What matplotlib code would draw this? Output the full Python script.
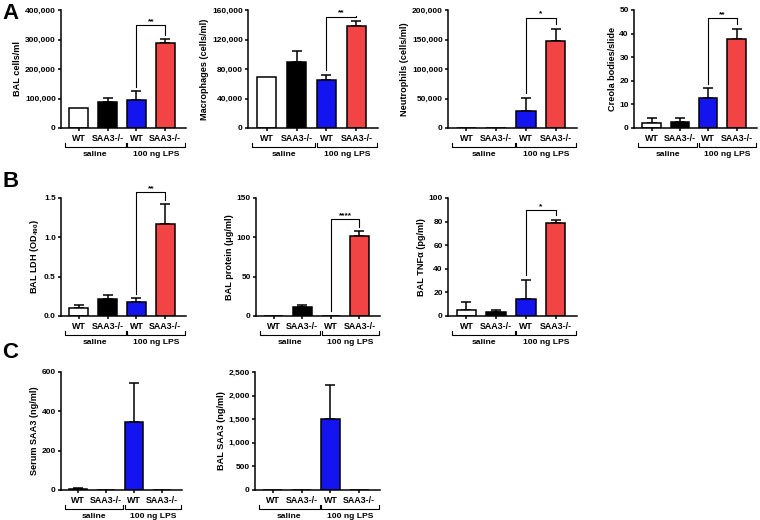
import matplotlib
matplotlib.use('Agg')
import matplotlib.pyplot as plt
from matplotlib.ticker import FuncFormatter
from matplotlib.transforms import blended_transform_factory
from matplotlib.lines import Line2D

plt.rcParams['font.family'] = ['Liberation Sans', 'DejaVu Sans']
plt.rcParams['font.weight'] = 'bold'
plt.rcParams['mathtext.fontset'] = 'custom'
plt.rcParams['mathtext.rm'] = 'Liberation Sans:bold'
plt.rcParams['mathtext.it'] = 'Liberation Sans:bold'
plt.rcParams['mathtext.bf'] = 'Liberation Sans:bold'
plt.rcParams['mathtext.default'] = 'rm'

# ---------------- data ----------------
genotypes = ['WT', 'SAA3-/-', 'WT', 'SAA3-/-']
treatments = ['saline', '100 ng LPS']
bar_colors = ['white', 'black', '#1414F0', '#F24444']

bal_cells = [68000, 88000, 94000, 287000]
bal_cells_err = [0, 15000, 30000, 13500]
macrophages = [69000, 90000, 65000, 138500]
macrophages_err = [0, 15000, 7000, 7000]
neutrophils = [0, 0, 29000, 148000]
neutrophils_err = [0, 0, 22000, 20000]
creola = [2.2, 2.7, 12.8, 37.9]
creola_err = [1.9, 1.4, 4.0, 4.1]
ldh = [0.107, 0.213, 0.18, 1.17]
ldh_err = [0.03, 0.052, 0.043, 0.25]
protein = [0, 11.5, 0, 102]
protein_err = [0, 2.2, 0, 5.5]
tnf = [5.4, 3.4, 14.8, 78.7]
tnf_err = [6.5, 2.0, 15.6, 2.8]
serum_saa3 = [3.4, 0, 345, 0]
serum_saa3_err = [5, 0, 199, 0]
bal_saa3 = [0, 0, 1508, 0]
bal_saa3_err = [0, 0, 710, 0]

# ---------------- layout (pixel boxes: left, top, right, bottom) ----------------
W, H = 760, 520
panels = [
    dict(box=(61, 10, 186, 128), vals=bal_cells, errs=bal_cells_err, ymax=400000, step=100000,
         fmt='comma', ylabel='BAL cells/ml', sig='**', sig_y=349000),
    dict(box=(248, 10, 378, 128), vals=macrophages, errs=macrophages_err, ymax=160000, step=40000,
         fmt='comma', ylabel='Macrophages (cells/ml)', sig='**', sig_y=151000),
    dict(box=(448, 10, 577, 128), vals=neutrophils, errs=neutrophils_err, ymax=200000, step=50000,
         fmt='comma', ylabel='Neutrophils (cells/ml)', sig='*', sig_y=187000),
    dict(box=(634, 10, 757, 128), vals=creola, errs=creola_err, ymax=50, step=10,
         fmt='int', ylabel='Creola bodies/slide', sig='**', sig_y=46.7),
    dict(box=(61, 198, 186, 316), vals=ldh, errs=ldh_err, ymax=1.5, step=0.5,
         fmt='dec', ylabel='BAL LDH (OD$_{490}$)', sig='**', sig_y=1.57),
    dict(box=(256, 198, 380, 316), vals=protein, errs=protein_err, ymax=150, step=50,
         fmt='int', ylabel='BAL protein (\u03bcg/ml)', sig='****', sig_y=123),
    dict(box=(448, 198, 577, 316), vals=tnf, errs=tnf_err, ymax=100, step=20,
         fmt='int', ylabel='BAL TNF\u03b1 (pg/ml)', sig='*', sig_y=90),
    dict(box=(61, 372, 182, 490), vals=serum_saa3, errs=serum_saa3_err, ymax=600, step=200,
         fmt='int', ylabel='Serum SAA3 (ng/ml)', sig=None, sig_y=None),
    dict(box=(255, 372, 380, 490), vals=bal_saa3, errs=bal_saa3_err, ymax=2500, step=500,
         fmt='comma', ylabel='BAL SAA3 (ng/ml)', sig=None, sig_y=None),
]

fig = plt.figure(figsize=(W / 100, H / 100), dpi=100)

formatters = {
    'comma': FuncFormatter(lambda v, p: f'{v:,.0f}'),
    'int': FuncFormatter(lambda v, p: f'{v:.0f}'),
    'dec': FuncFormatter(lambda v, p: f'{v:.1f}'),
}

LW = 1.1
x = [0, 1, 2, 3]
for pn in panels:
    x0, y0, x1, y1 = pn['box']
    ax = fig.add_axes([x0 / W, 1 - y1 / H, (x1 - x0) / W, (y1 - y0) / H])
    hpx = y1 - y0
    vals, errs = pn['vals'], pn['errs']
    ax.bar(x, vals, width=0.65, color=bar_colors, edgecolor='black', linewidth=LW, zorder=2)
    for xi, v, e in zip(x, vals, errs):
        if e > 0:
            ax.errorbar([xi], [v], yerr=[[0], [e]], fmt='none', ecolor='black',
                        elinewidth=LW, capsize=3.5, capthick=LW, zorder=1)
    ax.set_xlim(-0.62, 3.72)
    ax.set_ylim(0, pn['ymax'])
    ticks = [i * pn['step'] for i in range(int(round(pn['ymax'] / pn['step'])) + 1)]
    ax.set_yticks(ticks)
    ax.yaxis.set_major_formatter(formatters[pn['fmt']])
    ax.set_xticks(x)
    ax.set_xticklabels(genotypes, fontsize=6.4, fontweight='bold')
    ax.tick_params(axis='y', labelsize=6.0, length=2.5, width=LW, pad=1.2)
    ax.tick_params(axis='x', length=2.5, width=LW, pad=1.5)
    for s in ['top', 'right']:
        ax.spines[s].set_visible(False)
    for s in ['left', 'bottom']:
        ax.spines[s].set_linewidth(LW)
    for lab in ax.get_yticklabels():
        lab.set_fontweight('bold')
    ax.set_ylabel(pn['ylabel'], fontsize=6.6, fontweight='bold', labelpad=2)

    # group brackets below the axis
    tr = blended_transform_factory(ax.transData, ax.transAxes)
    ylow = -18.7 / hpx
    yup = -14.7 / hpx
    for (a, b), name in zip([(-0.47, 1.62), (1.68, 3.69)], treatments):
        ax.add_line(Line2D([a, a, b, b], [yup, ylow, ylow, yup], transform=tr,
                           color='black', lw=0.8, clip_on=False))
        ax.text((a + b) / 2, -26.0 / hpx, name, transform=tr, ha='center', va='center',
                fontsize=6.1, fontweight='bold')

    # significance bracket
    if pn['sig']:
        gap = 0.04 * pn['ymax']
        h = pn['sig_y']
        lb = vals[2] + errs[2] + gap
        rb = vals[3] + errs[3] + gap
        ax.plot([2, 2, 3, 3], [lb, h, h, rb], color='black', lw=0.8, clip_on=False, zorder=3)
        ax.text(2.5, h, pn['sig'], ha='center', va='bottom', fontsize=6.0, fontweight='bold')

# panel letters
for letter, (px, py) in zip(['A', 'B', 'C'], [(2, 3), (2, 171), (2, 342)]):
    fig.text(px / W, 1 - py / H, letter, ha='left', va='top', fontsize=16, fontweight='bold')

fig.savefig('out.png', dpi=100)
